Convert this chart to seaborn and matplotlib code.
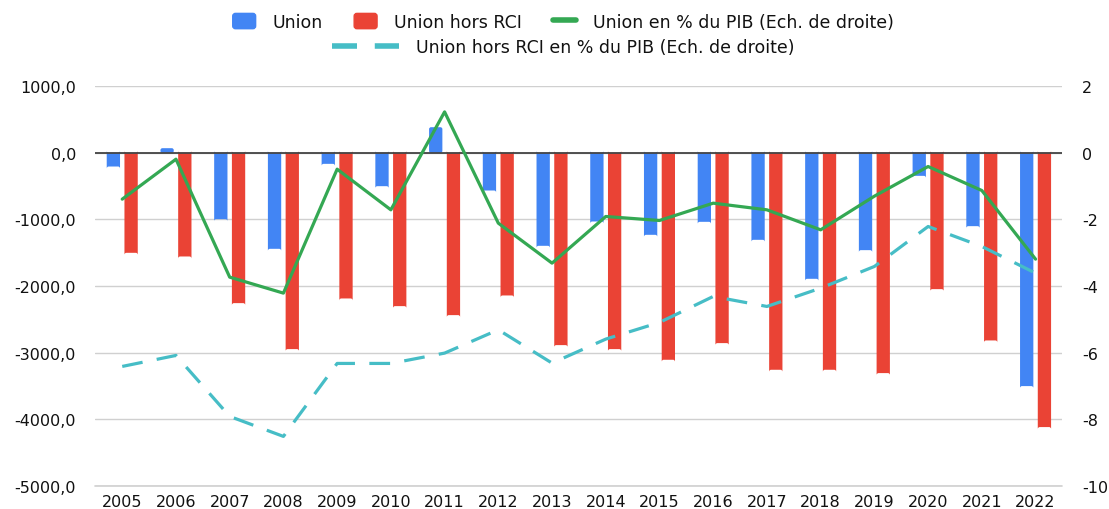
import numpy as np
import pandas as pd
import matplotlib
matplotlib.use("Agg")
import matplotlib.pyplot as plt
import seaborn as sns
from matplotlib.lines import Line2D
from matplotlib.patches import Patch, FancyBboxPatch, Rectangle
from matplotlib.legend_handler import HandlerPatch

# ---- data ----
years = [str(y) for y in range(2005, 2023)]
union = [-205, 70, -995, -1440, -165, -500, 385, -565, -1395,
         -1030, -1230, -1035, -1305, -1890, -1460, -345, -1100, -3500]
union_hors_rci = [-1500, -1555, -2255, -2945, -2185, -2300, -2435, -2140, -2885,
                  -2945, -3105, -2855, -3255, -3255, -3305, -2045, -2815, -4115]
union_pib = [-1.39, -0.19, -3.73, -4.21, -0.49, -1.71, 1.23, -2.11, -3.31,
             -1.91, -2.03, -1.51, -1.71, -2.31, -1.30, -0.41, -1.13, -3.19]
hors_rci_pib = [-6.41, -6.08, -7.91, -8.51, -6.32, -6.32, -6.01, -5.31, -6.31,
                -5.59, -5.09, -4.31, -4.61, -4.06, -3.41, -2.21, -2.81, -3.61]

series_names = ["Union", "Union hors RCI"]
line_names = ["Union en % du PIB (Ech. de droite)",
              "Union hors RCI en % du PIB (Ech. de droite)"]

BLUE, RED, GREEN, CYAN = "#4285F4", "#EA4335", "#34A853", "#46BDC6"
TXT = "#111111"
FS = 11.5      # tick labels
LFS = 12.5     # legend

df = pd.DataFrame({
    "Année": years * 2,
    "Série": [series_names[0]] * len(years) + [series_names[1]] * len(years),
    "Valeur": union + union_hors_rci,
})

sns.set_theme(style="white")
plt.rcParams["font.family"] = ["DejaVu Sans"]

fig = plt.figure(figsize=(11.09, 5.10), dpi=100)
ax = fig.add_axes([0.086, 0.045, 0.872, 0.784])

sns.barplot(data=df, x="Année", y="Valeur", hue="Série", palette=[BLUE, RED],
            width=0.66, gap=0.25, saturation=1, legend=False, ax=ax, zorder=2)

ax.set_ylim(-5000, 1000)
ax.set_xlim(-0.5, len(years) - 0.5)

# slightly rounded bar corners (google-charts look)
px_x = len(years) / (0.872 * 1109)
px_y = 6000 / (0.784 * 510)
for p in [p for p in ax.patches if isinstance(p, Rectangle)]:
    x0, y0, w, h = p.get_x(), p.get_y(), p.get_width(), p.get_height()
    fb = FancyBboxPatch((x0, y0), w, h,
                        boxstyle=f"round,pad=0,rounding_size={2 * px_x}",
                        mutation_aspect=px_y / px_x,
                        facecolor=p.get_facecolor(), edgecolor="none", zorder=2)
    p.remove()
    ax.add_patch(fb)

ax.set_yticks(range(-5000, 1001, 1000))
ax.set_yticklabels([f"{v:.1f}".replace(".", ",") for v in range(-5000, 1001, 1000)])
ax.yaxis.grid(True, color="#d0d0d0", lw=1, zorder=0)
ax.axhline(-5000, color="#d0d0d0", lw=1.2, clip_on=False, zorder=0)
ax.set_axisbelow(True)
ax.axhline(0, color="#444444", lw=1.3, zorder=3)
ax.set_xlabel("")
ax.set_ylabel("")
ax.tick_params(axis="both", length=0, labelsize=FS, colors=TXT)
ax.tick_params(axis="y", pad=14)
ax.tick_params(axis="x", pad=6)
for s in ax.spines.values():
    s.set_visible(False)

# ---- right axis lines ----
ax2 = ax.twinx()
idx = np.arange(len(years))
sns.lineplot(x=idx, y=union_pib, color=GREEN, lw=2.3, ax=ax2, zorder=4)
sns.lineplot(x=idx, y=hors_rci_pib, color=CYAN, lw=2.3, ax=ax2, zorder=4,
             dashes=False, linestyle=(0, (6.5, 4.5)))
ax2.set_ylim(-10, 2)
ax2.set_yticks(range(-10, 3, 2))
ax2.set_yticklabels([str(v) for v in range(-10, 3, 2)])
ax2.tick_params(axis="y", length=0, labelsize=FS, colors=TXT, pad=14)
ax2.grid(False)
ax2.set_ylabel("")
for s in ax2.spines.values():
    s.set_visible(False)


# ---- legend (two rows) ----
def rounded_swatch(legend, orig_handle, xdescent, ydescent, width, height, fontsize):
    return FancyBboxPatch((-xdescent, -ydescent), width, height,
                          boxstyle="round,pad=0,rounding_size=2")


h1 = [Patch(color=BLUE), Patch(color=RED), Line2D([], [], color=GREEN, lw=4)]
fig.legend(h1, [series_names[0], series_names[1], line_names[0]], ncol=3,
           loc="center", bbox_to_anchor=(0.508, 1 - 23 / 510), frameon=False,
           fontsize=LFS, handlelength=1.32, handleheight=0.98, columnspacing=1.8,
           handletextpad=0.98, labelcolor=TXT,
           handler_map={Patch: HandlerPatch(patch_func=rounded_swatch)})
h2 = [Line2D([], [], color=CYAN, lw=4, linestyle=(0, (4.5, 3.2)))]
fig.legend(h2, [line_names[1]], loc="center", bbox_to_anchor=(0.508, 1 - 48 / 510),
           frameon=False, fontsize=LFS, handlelength=3.85, handletextpad=1.03,
           labelcolor=TXT)

fig.savefig("out.png", dpi=100)
